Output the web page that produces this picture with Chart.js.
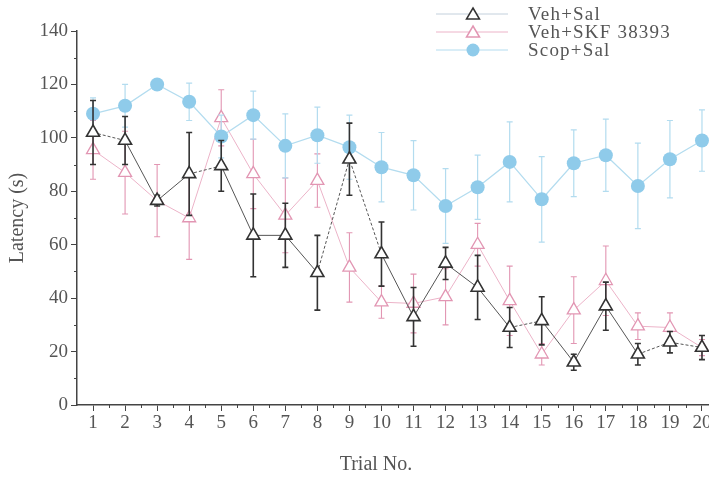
<!DOCTYPE html>
<html>
<head>
<meta charset="utf-8">
<script src="https://cdn.jsdelivr.net/npm/chart.js@4.4.1/dist/chart.umd.min.js"></script>
<style>
  html, body { margin: 0; padding: 0; background: #fff; overflow: hidden; }
  #wrap { position: relative; width: 740px; height: 477px; }
  #legend { position: absolute; left: 436px; top: 5px; font: 19px 'Liberation Serif', 'DejaVu Serif', serif;
    letter-spacing: 1.2px; color: #555; }
  #legend .row { display: flex; align-items: center; height: 18px; white-space: nowrap; }
  #legend svg { margin-right: 20px; flex: none; }
  #xtitle { position: absolute; left: 376px; top: 463px; transform: translate(-50%, -50%);
    font: 20px 'Liberation Serif', 'DejaVu Serif', serif; color: #555; white-space: nowrap; }
</style>
</head>
<body>
<div id="wrap">
  <canvas id="chart" width="740" height="477"></canvas>
  <div id="legend"></div>
  <div id="xtitle">Trial No.</div>
</div>
<script>
// Escape latency per trial, mean and SEM for each treatment group.
const TRIALS = ['1', '2', '3', '4', '5', '6', '7', '8', '9', '10',
  '11', '12', '13', '14', '15', '16', '17', '18', '19', '20'];
const Y_TICKS = [0, 20, 40, 60, 80, 100, 120, 140];

const VEH_SAL = [102, 99, 76.5, 86.5, 89.5, 63.5, 63.5, 49.5, 92, 56.5,
  33, 53, 44, 29, 31.5, 16, 37, 19, 23.5, 21.5];
const VEH_SAL_SEM = [12, 9, 2, 15.5, 9.5, 15.5, 12, 14, 13.5, 12,
  11, 6, 12, 7.5, 9, 3, 9, 4, 4, 4.5];

const VEH_SKF = [95.5, 87, 76.5, 70, 107.5, 86.5, 71, 84, 51.5, 38.5,
  38, 40.5, 60, 39, 19, 35.5, 46.5, 29.5, 29, 21.5];
const VEH_SKF_SEM = [11, 15.5, 13.5, 15.5, 10.5, 13, 14, 10, 13, 6,
  11, 10.5, 8, 13, 4, 12.5, 13, 5, 5.5, 3];

const SCOP_SAL = [109, 112, 120, 113.5, 100.5, 108.5, 97, 101, 96.5, 89,
  86, 74.5, 81.5, 91, 77, 90.5, 93.5, 82, 92, 99];
const SCOP_SAL_SEM = [6, 8, 1.5, 7, 8, 9, 12, 10.5, 12, 13,
  13, 14, 12, 15, 16, 12.5, 13.5, 16, 14.5, 11.5];

// segments of the Veh+Sal line drawn dashed (index of the starting point)
const DASHED = new Set([0, 3, 7, 8, 13, 17, 18]);

const FONT = "'Liberation Serif', 'DejaVu Serif', serif";
const INK = '#444';
const BLUE = '#8fcbea', BLUE_LN = '#b3dcef';
const PINK = '#e296b3', PINK_LN = '#ecb3c8';

// error bars go under each dataset's line and markers
const errorBars = {
  id: 'errorBars',
  beforeDatasetDraw(chart, args) {
    const ds = chart.data.datasets[args.index];
    if (!ds.sem) return;
    const y = chart.scales.y, ctx = chart.ctx;
    ctx.save();
    ctx.strokeStyle = ds.barColor;
    ctx.lineWidth = ds.barWidth;
    args.meta.data.forEach((pt, i) => {
      const v = ds.data[i], e = ds.sem[i];
      const top = y.getPixelForValue(v + e), bot = y.getPixelForValue(v - e);
      ctx.beginPath();
      ctx.moveTo(pt.x, top); ctx.lineTo(pt.x, bot);
      ctx.moveTo(pt.x - 3, top); ctx.lineTo(pt.x + 3, top);
      ctx.moveTo(pt.x - 3, bot); ctx.lineTo(pt.x + 3, bot);
      ctx.stroke();
    });
    ctx.restore();
  },
};

// short minor ticks: every 10 s on y, halfway between trials on x
const minorTicks = {
  id: 'minorTicks',
  afterDraw(chart) {
    const { ctx, scales: { x, y }, chartArea } = chart;
    ctx.save();
    ctx.strokeStyle = INK;
    ctx.lineWidth = 1;
    ctx.beginPath();
    for (let v = 10; v < 140; v += 20) {
      const py = Math.round(y.getPixelForValue(v)) + 0.5;
      ctx.moveTo(chartArea.left - 3, py); ctx.lineTo(chartArea.left, py);
    }
    for (let i = 0; i < TRIALS.length - 1; i++) {
      const px = Math.round((x.getPixelForValue(i) + x.getPixelForValue(i + 1)) / 2) + 0.5;
      ctx.moveTo(px, chartArea.bottom); ctx.lineTo(px, chartArea.bottom + 3);
    }
    ctx.stroke();
    ctx.restore();
  },
};

new Chart(document.getElementById('chart'), {
  type: 'line',
  data: {
    labels: TRIALS,
    datasets: [
      {
        label: 'Veh+Sal', data: VEH_SAL, sem: VEH_SAL_SEM, order: 0,
        barColor: '#333', barWidth: 1.6,
        borderColor: '#555', borderWidth: 1,
        segment: { borderDash: (c) => (DASHED.has(c.p0DataIndex) ? [3, 2] : undefined) },
        pointStyle: 'triangle', pointRadius: 7.5, pointBorderWidth: 1.6,
        pointBorderColor: '#333', pointBackgroundColor: '#fff',
      },
      {
        label: 'Scop+Sal', data: SCOP_SAL, sem: SCOP_SAL_SEM, order: 1,
        barColor: BLUE_LN, barWidth: 1.2,
        borderColor: BLUE_LN, borderWidth: 1.3,
        pointStyle: 'circle', pointRadius: 7, pointBorderWidth: 0,
        pointBackgroundColor: BLUE,
      },
      {
        label: 'Veh+SKF 38393', data: VEH_SKF, sem: VEH_SKF_SEM, order: 2,
        barColor: PINK, barWidth: 1.1,
        borderColor: PINK_LN, borderWidth: 1,
        pointStyle: 'triangle', pointRadius: 7.5, pointBorderWidth: 1.3,
        pointBorderColor: PINK, pointBackgroundColor: '#fff',
      },
    ],
  },
  options: {
    responsive: false,
    animation: false,
    layout: { padding: { top: 31, right: 22, left: 0, bottom: 0 } },
    plugins: { legend: { display: false }, tooltip: { enabled: false } },
    scales: {
      x: {
        type: 'category',
        offset: true,
        afterFit: (s) => { s.height = 72; },
        grid: { offset: false, drawOnChartArea: false, tickLength: 6, color: INK },
        border: { color: INK, width: 1.5 },
        ticks: { font: { family: FONT, size: 19 }, color: '#555', padding: 1, maxRotation: 0 },
      },
      y: {
        min: 0, max: 140,
        afterFit: (s) => { s.width = 77; },
        afterBuildTicks: (s) => { s.ticks = Y_TICKS.map((v) => ({ value: v })); },
        grid: { drawOnChartArea: false, tickLength: 6, color: INK },
        border: { color: INK, width: 1.5 },
        ticks: { font: { family: FONT, size: 19 }, color: '#555', padding: 3 },
        title: { display: true, text: 'Latency (s)', font: { family: FONT, size: 20 }, color: '#555',
          padding: { top: 6, bottom: 0 } },
      },
    },
  },
  plugins: [errorBars, minorTicks],
});

// legend: line segment with the series marker, then the group name
const LEGEND = [
  ['Veh+Sal', '#c3d0dc', 'tri', '#333'],
  ['Veh+SKF 38393', PINK_LN, 'tri', PINK],
  ['Scop+Sal', BLUE_LN, 'dot', BLUE],
];
document.getElementById('legend').innerHTML = LEGEND.map(([name, line, mark, col]) => {
  const m = mark === 'tri'
    ? `<polygon points="37,3 43.5,14 30.5,14" fill="#fff" stroke="${col}" stroke-width="1.5"/>`
    : `<circle cx="37" cy="9" r="6.5" fill="${col}"/>`;
  return `<div class="row"><svg width="72" height="18"><line x1="0" y1="9" x2="72" y2="9" stroke="${line}" stroke-width="1"/>${m}</svg>${name}</div>`;
}).join('');
</script>
</body>
</html>
